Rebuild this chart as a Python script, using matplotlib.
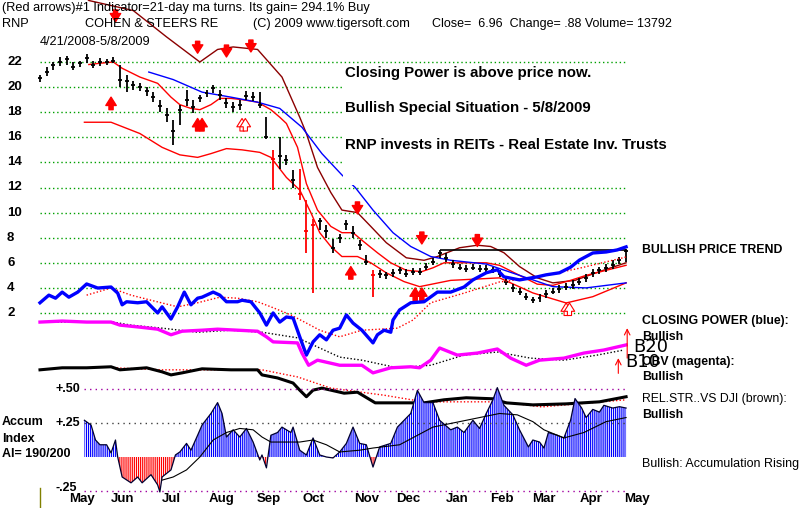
import numpy as np
import matplotlib
matplotlib.use("Agg")
import matplotlib.pyplot as plt
from matplotlib.patches import Rectangle
from matplotlib.transforms import blended_transform_factory

plt.rcParams['font.family'] = ['Liberation Sans', 'DejaVu Sans']
plt.rcParams['hatch.linewidth'] = 0.85

# ---------------- data (x = trading day index since 4/21/2008) ----------------
bar_day = np.arange(0, 265, 3)
bar_close = [20.7, 21.2, 21.8, 22.0, 22.2, 21.6, 21.9, 22.3, 21.8, 22.0, 22.0, 22.1,
             20.6, 20.5, 20.2, 20.0, 19.7, 19.2, 18.5, 17.8, 16.5, 18.2, 19.0, 18.4,
             19.1, 19.5, 19.9, 19.4, 18.7, 18.4, 18.6, 19.3, 19.2, 18.6, 16.0, 14.3,
             14.5, 14.2, 12.6, 11.5, 8.5, 9.0, 9.3, 8.5, 7.2, 8.0, 9.1, 8.4,
             7.4, 6.1, 5.0, 5.1, 5.0, 5.2, 5.4, 5.1, 5.3, 5.3, 5.7, 6.1,
             6.8, 6.4, 5.9, 5.6, 5.5, 5.6, 5.5, 5.5, 5.4, 5.1, 4.5, 4.0,
             3.7, 3.3, 3.0, 3.2, 3.5, 3.7, 3.9, 4.1, 4.2, 4.5, 4.8, 5.2,
             5.4, 5.6, 5.8, 6.2, 6.96]
bar_high = [21.0, 21.6, 22.0, 22.4, 22.5, 22.0, 22.1, 22.6, 22.1, 22.3, 22.2, 22.4,
            21.8, 21.0, 20.5, 20.3, 20.0, 19.6, 19.0, 18.3, 17.4, 18.6, 19.8, 19.0,
            19.4, 19.8, 20.2, 19.8, 19.1, 18.8, 19.0, 19.7, 19.6, 19.6, 17.6, 15.0,
            16.0, 14.6, 13.4, 13.5, 11.0, 9.5, 9.6, 9.0, 7.9, 8.3, 9.4, 8.9,
            7.8, 6.6, 5.4, 5.4, 5.3, 5.5, 5.7, 5.5, 5.6, 5.6, 6.0, 6.4,
            7.0, 6.8, 6.2, 5.9, 5.8, 5.9, 5.8, 5.8, 5.7, 5.4, 4.9, 4.3,
            4.0, 3.6, 3.3, 3.5, 3.8, 4.0, 4.2, 4.4, 4.6, 4.8, 5.1, 5.5,
            5.7, 5.9, 6.2, 6.5, 7.1]
bar_low = [20.4, 20.9, 21.4, 21.7, 21.8, 21.4, 21.6, 21.9, 21.5, 21.7, 21.8, 21.9,
           20.0, 19.6, 19.8, 19.7, 19.3, 18.8, 18.0, 17.2, 15.4, 17.0, 18.5, 17.9,
           18.8, 19.2, 19.5, 19.0, 18.3, 18.0, 18.2, 19.0, 18.9, 18.3, 15.9, 11.8,
           13.5, 13.8, 12.0, 11.0, 6.8, 3.6, 8.6, 8.0, 6.8, 7.6, 8.6, 8.0,
           7.0, 5.8, 3.3, 4.8, 4.7, 4.9, 5.1, 4.9, 5.0, 5.0, 5.4, 5.8,
           6.4, 6.1, 5.6, 5.4, 5.3, 5.4, 5.3, 5.3, 5.2, 4.9, 4.2, 3.7,
           3.4, 3.0, 2.8, 2.9, 3.2, 3.5, 3.6, 3.8, 3.9, 4.2, 4.5, 4.9,
           5.1, 5.3, 5.5, 5.9, 6.1]
red_bars = [35, 39, 40, 41, 50]

ma21_day = [22, 27, 33, 37, 45, 53, 59, 63, 68, 72, 77, 81, 86, 91, 98, 104, 108, 111,
            116, 120, 125, 131, 136, 141, 145, 152, 158, 165, 172, 177, 182, 189, 201,
            207, 216, 224, 231, 239, 246, 255, 264]
ma21_val = [21.8, 21.9, 22.0, 21.5, 20.8, 20.3, 19.2, 18.6, 18.3, 18.2, 18.6, 19.1, 19.1,
            19.0, 18.8, 18.2, 17.6, 17.1, 15.2, 12.3, 10.2, 8.9, 8.4, 8.4, 7.8, 6.8, 6.0,
            5.4, 5.3, 5.6, 6.0, 6.0, 6.0, 5.8, 5.0, 4.3, 4.2, 4.6, 5.0, 5.4, 5.8]

low_day = [20, 32, 45, 55, 63, 71, 77, 84, 91, 99, 104, 111, 117, 122, 126, 131, 136,
           143, 149, 156, 164, 171, 185, 207, 222, 237, 249, 264]
low_val = [17.2, 17.2, 16.3, 15.2, 14.6, 14.4, 14.7, 15.1, 15.0, 14.8, 14.4, 12.8, 11.8,
           10.0, 8.4, 7.3, 6.5, 6.5, 6.0, 5.2, 4.5, 4.1, 4.6, 4.8, 3.6, 2.8, 3.3, 4.4]

up_day = [18, 22, 42, 57, 72, 80, 87, 98, 109, 117, 120, 125, 131, 136, 143, 149, 156,
          165, 173, 179, 189, 197, 203, 209, 216, 224, 231, 241, 252, 264]
up_val = [27.6, 26.9, 26.1, 24.0, 22.0, 23.0, 23.2, 23.0, 20.8, 17.6, 16.3, 13.6, 11.6,
          10.2, 10.0, 8.9, 7.6, 6.4, 6.2, 6.5, 7.2, 7.4, 7.3, 6.8, 5.7, 4.8, 4.4, 4.6,
          5.3, 6.0]

ma50_day = [49, 60, 73, 86, 98, 108, 118, 127, 136, 142, 150, 159, 167, 176, 185, 201,
            216, 231, 246, 264]
ma50_val = [21.2, 20.6, 19.6, 19.2, 18.8, 18.3, 16.8, 14.7, 13.0, 12.0, 10.2, 8.4, 7.3,
            6.5, 6.2, 5.9, 5.0, 4.1, 4.0, 4.4]

resist_day = [180, 264]
resist_val = 7.05

# closing power, OBV, relative strength (indicator scale 0-100)
cp_day = [0, 4, 7, 10, 13, 17, 21, 26, 32, 35, 37, 39, 44, 48, 53, 55, 59, 62, 65, 68,
          71, 73, 78, 81, 84, 89, 91, 95, 99, 102, 105, 108, 111, 114, 117, 120, 123,
          126, 129, 132, 135, 138, 141, 145, 150, 152, 155, 158, 159, 162, 167, 173,
          179, 185, 191, 195, 201, 206, 209, 216, 224, 228, 234, 239, 243, 249, 255,
          260, 264]
cp_val = [40.4, 41.9, 41.3, 42.5, 41.5, 42.5, 44.1, 43.3, 43.5, 42.3, 40.0, 40.6, 40.4,
          40.6, 38.4, 39.6, 37.2, 39.6, 42.5, 40.0, 41.3, 41.5, 42.5, 41.9, 40.6, 40.6,
          40.9, 40.6, 38.4, 36.0, 38.4, 36.6, 37.6, 37.4, 33.7, 30.1, 32.7, 34.1, 33.1,
          35.0, 35.4, 38.0, 36.4, 35.0, 32.5, 34.1, 35.0, 34.6, 37.0, 39.0, 40.4, 40.6,
          42.5, 42.5, 43.5, 44.9, 46.3, 46.9, 45.5, 44.9, 45.5, 45.9, 46.3, 47.4, 48.8,
          50.2, 50.4, 50.8, 51.4]
cpma_day = [21, 32, 41, 50, 62, 71, 81, 89, 98, 104, 113, 120, 126, 135, 145, 161, 168,
            176, 191, 207, 222, 243, 264]
cpma_val = [41.9, 43.3, 41.9, 40.9, 39.6, 40.4, 41.5, 41.3, 40.6, 39.6, 38.0, 36.4, 35.0,
            33.7, 35.0, 35.4, 37.0, 40.4, 42.3, 44.5, 45.3, 47.2, 49.4]

obv_day = [0, 10, 21, 32, 36, 45, 53, 59, 64, 73, 80, 89, 98, 102, 105, 116, 118, 121,
           125, 131, 135, 145, 150, 158, 167, 171, 176, 180, 188, 197, 206, 212, 219,
           225, 236, 245, 254, 264]
obv_val = [36.6, 36.8, 36.6, 36.6, 36.0, 35.6, 35.2, 34.1, 34.8, 35.0, 35.2, 35.0, 34.8,
           33.7, 32.7, 32.5, 30.5, 28.1, 29.1, 28.5, 28.1, 28.1, 26.6, 27.6, 27.8, 27.6,
           29.1, 31.5, 30.1, 30.5, 31.3, 29.5, 28.1, 29.1, 29.5, 30.5, 31.1, 32.1]
obvma_day = [0, 33, 41, 55, 71, 86, 100, 116, 123, 135, 145, 161, 176, 191, 206, 221,
             236, 251, 263]
obvma_val = [36.6, 36.6, 36.0, 35.4, 34.6, 35.0, 34.6, 33.5, 32.1, 29.7, 29.1, 27.6, 28.1,
             30.1, 30.7, 29.5, 29.1, 30.1, 31.1]

rs_day = [0, 10, 21, 32, 36, 48, 55, 59, 64, 73, 86, 98, 100, 107, 114, 117, 120, 123,
          127, 137, 143, 151, 164, 173, 182, 192, 204, 210, 222, 237, 252, 264]
rs_val = [27.2, 27.6, 27.6, 27.8, 27.2, 27.6, 26.8, 26.2, 26.6, 27.4, 27.2, 27.2, 26.2,
          25.6, 24.6, 23.2, 21.9, 23.2, 23.6, 22.6, 22.8, 20.7, 20.7, 20.7, 21.3, 21.7,
          21.5, 20.7, 20.3, 20.5, 20.9, 21.9]
rsma_day = [33, 55, 86, 100, 116, 131, 155, 173, 208, 226, 264]
rsma_val = [27.6, 27.2, 27.2, 27.2, 25.8, 23.6, 22.2, 20.9, 20.9, 19.9, 21.3]

# accumulation index
ai_day = [20, 23, 25, 27, 30, 32, 34, 35, 37, 41, 44, 46, 50, 53, 54, 55, 59, 61, 63,
          66, 68, 71, 73, 77, 80, 82, 84, 87, 90, 93, 96, 99, 100, 102, 104, 107, 109,
          113, 114, 117, 120, 123, 126, 129, 132, 135, 138, 141, 144, 147, 150, 153,
          158, 161, 167, 170, 173, 177, 180, 185, 188, 191, 195, 198, 201, 204, 206,
          209, 213, 216, 220, 222, 225, 227, 229, 233, 236, 239, 241, 244, 246, 249,
          252, 254, 258, 261, 264]
ai_val = [0.27, 0.235, 0.125, 0.09, 0.09, 0.03, 0.125, 0.0, -0.147, -0.19, -0.147, -0.19,
          -0.13, -0.205, -0.257, -0.147, -0.095, 0.015, 0.037, 0.10, 0.05, 0.16, 0.235,
          0.32, 0.40, 0.32, 0.147, 0.20, 0.147, 0.21, 0.11, -0.022, 0.015, -0.08, 0.16,
          0.18, 0.22, 0.18, 0.22, 0.05, 0.015, 0.14, 0.015, 0.0, -0.007, 0.037, 0.10,
          0.22, 0.10, 0.09, -0.074, 0.074, 0.10, 0.22, 0.32, 0.49, 0.40, 0.40, 0.27,
          0.20, 0.22, 0.18, 0.27, 0.21, 0.32, 0.42, 0.51, 0.38, 0.31, 0.20, 0.074,
          0.125, 0.11, 0.066, 0.18, 0.16, 0.14, 0.27, 0.43, 0.36, 0.29, 0.35, 0.33,
          0.38, 0.36, 0.37, 0.36]
aima_day = [55, 60, 66, 72, 78, 84, 90, 96, 100, 104, 117, 123, 129, 135, 144, 150, 162,
            177, 192, 207, 215, 222, 227, 236, 245, 255, 264]
aima_val = [-0.17, -0.147, -0.095, 0.0, 0.125, 0.18, 0.21, 0.20, 0.147, 0.11, 0.11, 0.125,
            0.09, 0.037, 0.05, 0.066, 0.09, 0.22, 0.27, 0.32, 0.31, 0.26, 0.20, 0.14,
            0.18, 0.26, 0.29]

# signal arrows (day, price at arrow tip)
sell_day = [34, 71, 84, 95, 143, 172, 197]
sell_tip = [25.2, 22.7, 22.4, 22.8, 9.9, 7.5, 7.3]
buy_day = [32, 71, 73, 140, 169, 172]
buy_tip = [19.2, 17.5, 17.5, 5.7, 4.0, 4.0]
buy_hollow_day = [91, 92.5, 237, 238.5]
buy_hollow_tip = [17.5, 17.5, 2.8, 2.8]

price_ticks = [22, 20, 18, 16, 14, 12, 10, 8, 6, 4, 2]
month_labels = ['May', 'Jun', 'Jul', 'Aug', 'Sep', 'Oct', 'Nov', 'Dec', 'Jan', 'Feb',
                'Mar', 'Apr', 'May']
month_day = [19, 37, 59, 82, 103, 123, 147, 166, 188, 208, 227, 248, 269]

# ---------------- layout ----------------
W, H = 800, 508
PX0, PXD = 40.0, 2.22
XLIM = (-PX0 / PXD, (W - PX0) / PXD)

fig = plt.figure(figsize=(W / 100, H / 100), dpi=100)
fig.patch.set_facecolor('white')


def full_axes(ylim):
    ax = fig.add_axes([0, 0, 1, 1], facecolor='none')
    ax.set_xlim(*XLIM)
    ax.set_ylim(*ylim)
    ax.axis('off')
    return ax


ax_p = full_axes((22 - 446 / 12.55, 22 + 62 / 12.55))      # price
ax_i = full_axes((0, 100))                                   # CP / OBV / RS
ax_a = full_axes((-51 / 136, 457 / 136))                     # accumulation index


def T(px, py, s, size=9, weight='normal', **kw):
    fig.text(px / W, 1 - py / H, s, fontsize=size, fontweight=weight,
             va='center', ha='left', zorder=5, **kw)


# price grid
ax_p.hlines(price_ticks, 0, 264.5, colors='#00a000', lw=1, linestyles=(0, (1, 2)), zorder=1)
for p in price_ticks:
    ax_p.text((7 - PX0) / PXD, p, str(p), fontsize=9.5, fontweight='bold',
              va='center', ha='left')

# indicator lines
ax_i.plot(cpma_day, cpma_val, color='red', lw=1, ls=(0, (1, 1.5)), zorder=2)
ax_i.plot(cp_day, cp_val, color='#0000ff', lw=2.4, zorder=3)
ax_i.plot(obvma_day, obvma_val, color='black', lw=1, ls=(0, (1, 1.5)), zorder=2)
ax_i.plot(obv_day, obv_val, color='#ff00ff', lw=2.4, zorder=3)
ax_i.plot(rsma_day, rsma_val, color='red', lw=1, ls=(0, (1, 1.5)), zorder=2)
ax_i.plot(rs_day, rs_val, color='black', lw=2.2, zorder=3)

# price lines
ax_p.plot(up_day, up_val, color='#8b0000', lw=1, zorder=2)
ax_p.plot(low_day, low_val, color='red', lw=1, zorder=2)
ax_p.plot(ma21_day, ma21_val, color='red', lw=1, zorder=2)
ax_p.plot(ma50_day, ma50_val, color='#0000ff', lw=1, zorder=2)
ax_p.hlines(resist_val, resist_day[0], resist_day[1], colors='black', lw=1.2, zorder=2)

# price bars
colors = ['red' if i in red_bars else 'black' for i in range(len(bar_day))]
ax_p.vlines(bar_day, bar_low, bar_high, colors=colors, lw=1.3, zorder=4)
ax_p.hlines(bar_close, bar_day - 0.9, bar_day + 0.9, colors=colors, lw=1.3, zorder=4)

# arrows
astyle = 'simple,head_length=0.8,head_width=1.0,tail_width=0.4'
aprops = dict(arrowstyle=astyle, color='red', shrinkA=0, shrinkB=0, mutation_scale=7.5)
for d, t in zip(sell_day, sell_tip):
    ax_p.annotate('', xy=(d, t), xytext=(d, t + 0.95), arrowprops=aprops, zorder=6)
for d, t in zip(buy_day, buy_tip):
    ax_p.annotate('', xy=(d, t), xytext=(d, t - 1.0), arrowprops=aprops, zorder=6)
for d, t in zip(buy_hollow_day, buy_hollow_tip):
    ax_p.annotate('', xy=(d, t), xytext=(d, t - 1.0),
                  arrowprops=dict(arrowstyle=astyle, fc='white', ec='red', lw=0.8,
                                  shrinkA=0, shrinkB=0, mutation_scale=7.5), zorder=6)
thin = dict(arrowstyle='->', color='red', lw=0.8, shrinkA=0, shrinkB=0)
ax_i.annotate('', xy=(260.5, 29.5), xytext=(260.5, 26.5), arrowprops=thin)
ax_i.annotate('', xy=(264.5, 35.4), xytext=(264.5, 29.5), arrowprops=thin)

# accumulation index
ai_x = np.array(ai_day, float)
ai_y = np.array(ai_val)
ax_a.hlines([0.5, -0.25], 20, 264.5, colors='#a000a0', lw=1, linestyles=(0, (1, 3)))
ax_a.hlines(0.25, 20, 264.5, colors='#404040', lw=1, linestyles=(0, (1, 3)))
ax_a.fill_between(ai_x, 0, ai_y, where=ai_y >= 0, interpolate=True, facecolor='white',
                  edgecolor='#0000ff', hatch='|' * 8, linewidth=0)
ax_a.fill_between(ai_x, 0, ai_y, where=ai_y <= 0, interpolate=True, facecolor='white',
                  edgecolor='red', hatch='|' * 8, linewidth=0)
ax_a.plot(ai_x, ai_y, color='#000030', lw=0.9)
ax_a.plot(aima_day, aima_val, color='black', lw=0.8)
ax_a.plot([0, 0], [-0.23, -0.375], color='#808000', lw=1)

trans = blended_transform_factory(ax_a.transData, ax_a.transAxes)
for lab, d in zip(month_labels, month_day):
    ax_a.text(d, 1 - 499 / H, lab, transform=trans, fontsize=9.5, fontweight='bold',
              ha='center', va='center')

# white panel behind commentary text
fig.patches.append(Rectangle((343 / W, 1 - 185 / H), (640 - 343) / W, (185 - 64) / H,
                             transform=fig.transFigure, facecolor='white',
                             edgecolor='none', zorder=1))

# texts
T(2, 8, "(Red arrows)#1 Indicator=21-day ma turns. Its gain= 294.1% Buy", 9.2)
T(2, 24, "RNP", 9.2)
T(85, 24, "COHEN & STEERS RE", 9.2)
T(253, 24, "(C) 2009 www.tigersoft.com", 9.2)
T(432, 24, "Close=  6.96  Change= .88 Volume= 13792", 9.0)
T(40, 42, "4/21/2008-5/8/2009", 9.2)
T(345, 73, "Closing Power is above price now.", 10.8, 'bold')
T(345, 108, "Bullish Special Situation - 5/8/2009", 10.8, 'bold')
T(345, 145, "RNP invests in REITs - Real Estate Inv. Trusts", 10.8, 'bold')
T(642, 250, "BULLISH PRICE TREND", 8.8, 'bold')
T(642, 321, "CLOSING POWER (blue):", 8.8, 'bold')
T(642, 337, "Bullish", 8.8, 'bold')
T(642, 362, "OBV (magenta):", 8.8, 'bold')
T(642, 377, "Bullish", 8.8, 'bold')
T(642, 399, "REL.STR..VS DJI (brown):", 8.8)
T(642, 415, "Bullish", 8.8, 'bold')
T(642, 464, "Bullish: Accumulation Rising", 9.0)
T(2, 422, "Accum", 9, 'bold')
T(2, 439, "Index", 9, 'bold')
T(2, 454, "AI= 190/200", 9, 'bold')
T(55, 389, "+.50", 9, 'bold')
T(55, 423, "+.25", 9, 'bold')
T(55, 488, "-.25", 9, 'bold')
fig.text(633 / W, 1 - 347 / H, "B20", fontsize=13, family='DejaVu Sans', va='center', zorder=6)
fig.text(625 / W, 1 - 362 / H, "B10", fontsize=13, family='DejaVu Sans', va='center', zorder=6)

fig.savefig('out.png', dpi=100)
